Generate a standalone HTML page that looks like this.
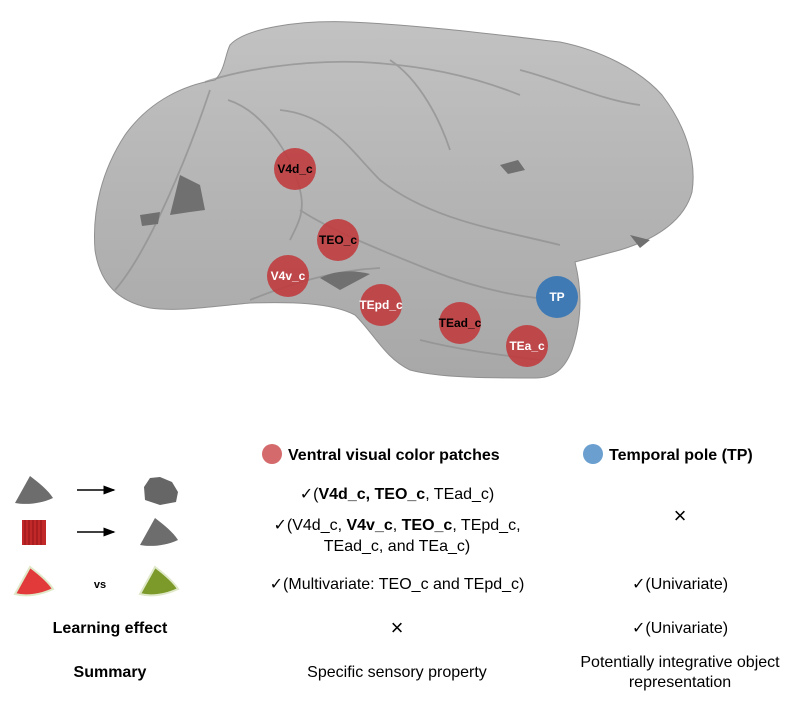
<!DOCTYPE html>
<html><head><meta charset="utf-8"><style>
body{margin:0;background:#fff;width:800px;height:700px;overflow:hidden}
svg text{font-family:"Liberation Sans",Arial,sans-serif}
</style></head><body>
<svg width="800" height="700" viewBox="0 0 800 700">
<defs>
<linearGradient id="g" x1="0" y1="0" x2="0" y2="1"><stop offset="0" stop-color="#c2c2c2"/><stop offset="0.5" stop-color="#b4b4b4"/><stop offset="1" stop-color="#a8a8a8"/></linearGradient>
<marker id="ah" markerWidth="8" markerHeight="8" refX="7" refY="4" orient="auto"><path d="M0,1 L8,4 L0,7Z" fill="#000"/></marker>
</defs>
<path d="M230,45 C245,28 300,20 350,22 C420,25 500,35 560,42 C600,50 640,70 662,95 C685,125 697,160 692,192 C685,218 660,238 620,250 L575,262 C582,290 582,320 572,350 C565,368 555,378 535,378 C490,378 440,378 410,370 C385,358 375,335 355,315 C330,302 290,302 250,303 C215,306 180,312 150,308 C120,302 100,285 95,250 C92,210 102,170 125,135 C150,100 185,85 215,80 C225,70 225,55 230,45Z" fill="url(#g)" stroke="#909090" stroke-width="1"/>
<g fill="none" stroke="#8e8e8e" stroke-width="1.8" opacity="0.7">
<path d="M205,82 C240,70 300,60 360,62 C420,65 470,75 520,95"/>
<path d="M228,100 C260,110 290,150 300,190 C305,210 300,220 290,240"/>
<path d="M280,110 C330,115 350,150 380,180 C430,220 500,230 560,245"/>
<path d="M300,210 C330,230 380,250 430,270 C480,290 530,300 570,300"/>
<path d="M210,90 C190,150 150,250 115,290"/>
<path d="M390,60 C420,80 440,120 450,150"/>
<path d="M520,70 C560,80 600,100 640,105"/>
<path d="M250,300 C300,280 340,270 380,268"/>
<path d="M420,340 C460,350 500,355 540,360"/>
</g>
<path d="M180,175 L200,185 L205,210 L190,212 L170,215 Z" fill="#707070"/>
<path d="M140,215 L160,212 L158,224 L142,226Z" fill="#707070"/>
<path d="M500,165 L518,160 L525,170 L508,174Z" fill="#707070"/>
<path d="M320,278 C335,270 355,270 370,274 L340,290 Z" fill="#707070"/>
<path d="M630,235 L650,240 L640,248Z" fill="#707070"/>
<g fill="#c0393c" fill-opacity="0.88">
<circle cx="295" cy="169" r="21"/><circle cx="338" cy="240" r="21"/><circle cx="288" cy="276" r="21"/>
<circle cx="381" cy="305" r="21"/><circle cx="460" cy="323" r="21"/><circle cx="527" cy="346" r="21"/>
</g>
<circle cx="557" cy="297" r="21" fill="#3f7ab5"/>
<g font-size="12" font-weight="bold" text-anchor="middle">
<text x="295" y="173">V4d_c</text><text x="338" y="244">TEO_c</text>
<text x="288" y="280" fill="#fff">V4v_c</text><text x="381" y="309" fill="#fff">TEpd_c</text>
<text x="460" y="327">TEad_c</text><text x="527" y="350" fill="#fff">TEa_c</text>
<text x="557" y="301" fill="#fff">TP</text>
</g>
<circle cx="272" cy="454" r="10" fill="#d46a6c"/>
<circle cx="593" cy="454" r="10" fill="#6a9fd0"/>
<g font-size="16">
<text x="288" y="460" font-weight="bold">Ventral visual color patches</text>
<text x="609" y="460" font-weight="bold">Temporal pole (TP)</text>
<g text-anchor="middle">
<text x="397" y="499">✓(<tspan font-weight="bold">V4d_c, TEO_c</tspan>, TEad_c)</text>
<text x="397" y="530">✓(V4d_c, <tspan font-weight="bold">V4v_c</tspan>, <tspan font-weight="bold">TEO_c</tspan>, TEpd_c,</text>
<text x="397" y="551">TEad_c, and TEa_c)</text>
<text x="397" y="589">✓(Multivariate: TEO_c and TEpd_c)</text>
<text x="397" y="635" font-size="22" font-weight="100">×</text>
<text x="397" y="677">Specific sensory property</text>
<text x="680" y="523" font-size="22" font-weight="100">×</text>
<text x="680" y="589">✓(Univariate)</text>
<text x="680" y="633">✓(Univariate)</text>
<text x="680" y="667">Potentially integrative object</text>
<text x="680" y="687">representation</text>
<text x="110" y="633" font-weight="bold">Learning effect</text>
<text x="110" y="677" font-weight="bold">Summary</text>
<text x="100" y="588" font-size="11" font-weight="bold">vs</text>
</g></g>
<path d="M30,476 C38,482 48,490 53,498 C40,504 26,505 15,503 Z" fill="#6d6d6d"/>
<path d="M144,487 L150,478 L160,477 L172,482 L178,492 L176,502 L160,505 L145,500 Z" fill="#666"/>
<line x1="77" y1="490" x2="114" y2="490" stroke="#000" stroke-width="1.5" marker-end="url(#ah)"/>
<rect x="22" y="520" width="24" height="25" fill="#c0282a"/>
<g stroke="#8a1010" stroke-width="0.8"><line x1="25" y1="520" x2="25" y2="545"/><line x1="29" y1="520" x2="29" y2="545"/><line x1="33" y1="520" x2="33" y2="545"/><line x1="37" y1="520" x2="37" y2="545"/><line x1="41" y1="520" x2="41" y2="545"/></g>
<line x1="77" y1="532" x2="114" y2="532" stroke="#000" stroke-width="1.5" marker-end="url(#ah)"/>
<path d="M155,518 C163,524 173,532 178,540 C165,546 151,547 140,545 Z" fill="#6d6d6d"/>
<path d="M30,567 C38,573 48,581 53,589 C40,595 26,597 15,594 Z" fill="#e23a3a" stroke="#dfe8c8" stroke-width="2"/>
<path d="M155,567 C163,573 173,581 178,589 C165,595 151,597 140,594 Z" fill="#7c9a2a" stroke="#dfe8c8" stroke-width="2"/>
</svg>
</body></html>
